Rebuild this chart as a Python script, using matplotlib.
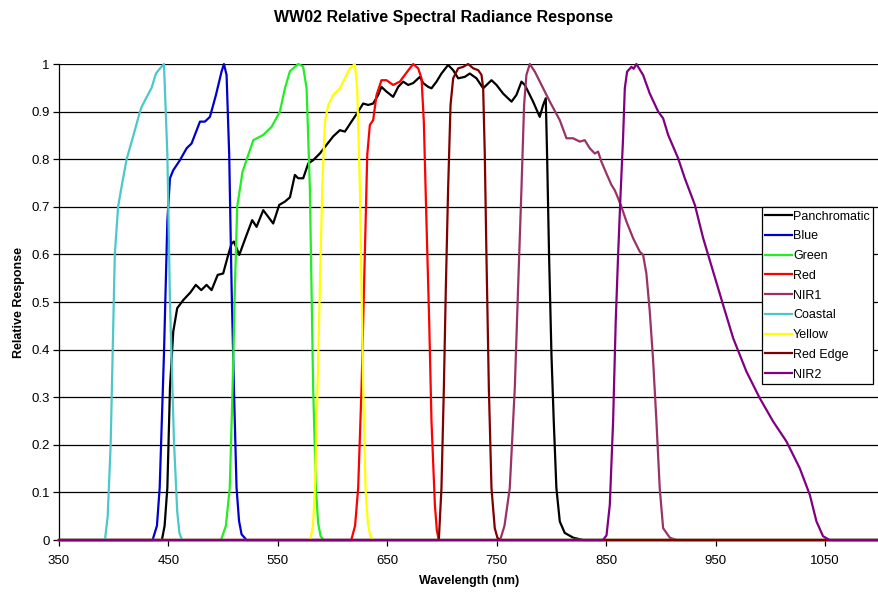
import matplotlib
matplotlib.use("Agg")
import matplotlib.pyplot as plt
from matplotlib.ticker import FuncFormatter, MultipleLocator

plt.rcParams['font.family'] = ['Liberation Sans', 'DejaVu Sans']

# spectral response curves (wavelength nm, relative response)
pan_wl = [350, 444, 446.5, 449, 451.4, 454.4, 458, 463.5, 470, 475, 480, 484.8, 489.4, 495, 500,
          504.6, 507.7, 509.8, 514.7, 521.4, 526.5, 530.5, 536.6, 545.7, 551.2, 556.4, 561,
          565.5, 568.5, 573.1, 577.7, 582.2, 588.3, 594.4, 600.5, 606.6, 611.2, 617.2, 623.3,
          627.9, 632.5, 637, 641.6, 644.6, 649.2, 655.3, 659.9, 664.4, 669, 673.6, 679.7,
          682.7, 687.3, 690.3, 694.9, 699.4, 705.5, 710.1, 714.7, 720.7, 725.3, 731.4, 737.5,
          745.1, 749.7, 755.7, 763.4, 767.9, 772.5, 775.5, 778.6, 783.1, 789.2, 792.3, 794.7,
          795.9, 797.7, 799.9, 802, 804.4, 807.5, 812, 819.7, 828.8, 1100]
pan_val = [0, 0, 0.03, 0.11, 0.32, 0.438, 0.487, 0.504, 0.52, 0.536, 0.525, 0.536, 0.525, 0.557, 0.56,
           0.599, 0.623, 0.627, 0.599, 0.641, 0.672, 0.658, 0.693, 0.665, 0.704, 0.711, 0.72,
           0.767, 0.76, 0.76, 0.791, 0.798, 0.812, 0.83, 0.848, 0.861, 0.858, 0.879, 0.9,
           0.917, 0.914, 0.917, 0.935, 0.952, 0.942, 0.931, 0.952, 0.963, 0.956, 0.96, 0.973,
           0.96, 0.952, 0.949, 0.963, 0.98, 0.998, 0.987, 0.97, 0.973, 0.98, 0.97, 0.949,
           0.966, 0.956, 0.938, 0.921, 0.935, 0.963, 0.956, 0.942, 0.921, 0.889, 0.914, 0.928,
           0.809, 0.599, 0.389, 0.249, 0.109, 0.039, 0.015, 0.005, 0, 0]

blue_wl = [350, 435.5, 439.5, 442, 445.9, 449, 451.4, 454.4, 460.5, 466.6, 471.1, 478.8, 483.3,
           487.9, 493.4, 498.5, 500.7, 503.1, 505.5, 507.7, 509.8, 512.2, 514.5, 516.8, 521.4, 1100]
blue_val = [0, 0, 0.03, 0.11, 0.39, 0.67, 0.76, 0.777, 0.798, 0.823, 0.833, 0.879, 0.879,
            0.889, 0.935, 0.984, 1.0, 0.977, 0.81, 0.53, 0.32, 0.11, 0.04, 0.012, 0, 0]

green_wl = [350, 498, 502.5, 506, 508.6, 510.7, 512.8, 517.7, 522.9, 527.5, 536.6, 544.2, 551.8,
            556.4, 561, 568.5, 573, 576.2, 579.2, 580.7, 582.2, 584.7, 586.8, 589, 592, 1100]
green_val = [0, 0, 0.03, 0.11, 0.32, 0.53, 0.70, 0.774, 0.809, 0.84, 0.851, 0.868, 0.9,
             0.949, 0.985, 1.0, 0.995, 0.949, 0.739, 0.529, 0.319, 0.109, 0.035, 0.008, 0, 0]

red_wl = [350, 617, 620.5, 623.3, 626.4, 629.4, 631.6, 634, 637, 640.1, 644.6, 649.2, 655.3,
          661.4, 665.9, 670.5, 673.6, 678.1, 681.2, 683.3, 685.7, 688.2, 690.3, 693.4, 695.2,
          697, 1100]
red_val = [0, 0, 0.03, 0.109, 0.319, 0.599, 0.809, 0.872, 0.882, 0.935, 0.966, 0.966, 0.956,
           0.963, 0.977, 0.991, 1.0, 0.991, 0.97, 0.879, 0.669, 0.459, 0.249, 0.074, 0.02, 0, 0]

nir1_wl = [350, 753, 757, 761.8, 766.4, 769.4, 772.5, 774.9, 777, 780.1, 784.7, 790.8, 798.4,
           807.5, 813.6, 819.7, 825.8, 830.3, 834.9, 839.5, 842.5, 845.5, 850.1, 854.7, 857.7,
           860.8, 863.8, 868.4, 874.5, 880.5, 883.6, 886.6, 889.7, 892.7, 895.8, 898.8, 901.9,
           908, 914, 1100]
nir1_val = [0, 0, 0.03, 0.109, 0.319, 0.529, 0.739, 0.914, 0.977, 1.0, 0.984, 0.956, 0.921,
            0.882, 0.844, 0.844, 0.837, 0.84, 0.823, 0.812, 0.816, 0.795, 0.77, 0.746, 0.735,
            0.718, 0.7, 0.669, 0.634, 0.606, 0.599, 0.56, 0.48, 0.38, 0.249, 0.109, 0.025,
            0.005, 0, 0]

coastal_wl = [350, 392, 394.5, 397.2, 401, 404, 407, 411.8, 418, 424, 425.5, 430, 434.6, 438.6,
              442, 445.9, 449, 451.4, 455, 458, 460, 462.5, 1100]
coastal_val = [0, 0, 0.05, 0.2, 0.6, 0.7, 0.74, 0.8, 0.85, 0.9, 0.91, 0.93, 0.95, 0.98,
               0.99, 1.0, 0.81, 0.5, 0.21, 0.06, 0.015, 0, 0]

yellow_wl = [350, 579.5, 582, 583.8, 586.2, 588.3, 590.5, 592.9, 596, 600.5, 606.6, 611.2, 615.7,
             620.3, 622.4, 624.9, 626.4, 627.9, 630, 632.2, 634.5, 637.5, 1100]
yellow_val = [0, 0, 0.03, 0.109, 0.319, 0.529, 0.739, 0.879, 0.914, 0.935, 0.949, 0.97, 0.991,
              1.0, 0.949, 0.739, 0.529, 0.319, 0.109, 0.035, 0.008, 0, 0]

rededge_wl = [350, 697, 699.4, 701.6, 703.4, 705.5, 707.7, 710.1, 714.7, 719.2, 723.8, 728.4,
              733, 736, 737.5, 739, 740.5, 742.7, 745.1, 748.1, 750.5, 753, 1100]
rededge_val = [0, 0, 0.109, 0.319, 0.529, 0.739, 0.914, 0.97, 0.991, 0.994, 1.0, 0.991,
               0.987, 0.977, 0.949, 0.809, 0.599, 0.319, 0.109, 0.025, 0.005, 0, 0]

nir2_wl = [350, 847, 850.2, 853.2, 856.2, 858.6, 860.8, 862.9, 865.3, 866.9, 869, 872.9, 875,
           877.5, 883.6, 889.7, 897.4, 901.9, 906.5, 915.6, 921.7, 930.9, 938.5, 947.6, 956.7,
           965.9, 978, 990.2, 1002.4, 1014.6, 1026.7, 1035.9, 1042, 1048, 1054, 1100]
nir2_val = [0, 0, 0.01, 0.074, 0.249, 0.459, 0.6, 0.72, 0.844, 0.949, 0.984, 0.994, 0.99,
            1.0, 0.977, 0.938, 0.9, 0.886, 0.851, 0.802, 0.76, 0.704, 0.634, 0.564, 0.494,
            0.424, 0.354, 0.298, 0.249, 0.207, 0.151, 0.095, 0.039, 0.008, 0, 0]

series = [
    ("Panchromatic", pan_wl, pan_val, "#000000"),
    ("Blue", blue_wl, blue_val, "#0000CC"),
    ("Green", green_wl, green_val, "#22EE22"),
    ("Red", red_wl, red_val, "#FF0000"),
    ("NIR1", nir1_wl, nir1_val, "#993366"),
    ("Coastal", coastal_wl, coastal_val, "#4CC8C8"),
    ("Yellow", yellow_wl, yellow_val, "#FFFF00"),
    ("Red Edge", rededge_wl, rededge_val, "#800000"),
    ("NIR2", nir2_wl, nir2_val, "#800080"),
]

fig = plt.figure(figsize=(8.79, 5.95), dpi=100)
ax = fig.add_axes([0.0671, 0.0924, 0.934, 0.8])

for name, wl, val, col in series:
    ax.plot(wl, val, color=col, lw=1.6, label=name, zorder=3, clip_on=False)

ax.set_xlim(350, 1100)
ax.set_ylim(0, 1)
ax.set_xticks(range(350, 1100, 100))
ax.yaxis.set_major_locator(MultipleLocator(0.1))
ax.yaxis.set_major_formatter(FuncFormatter(lambda v, p: "%g" % round(v, 1)))
ax.grid(axis='y', color='black', lw=0.9)
ax.set_axisbelow(True)
ax.tick_params(direction='out', length=4.5, width=0.9, labelsize=9.5, colors='black')
ax.tick_params(axis='y', pad=2)
ax.tick_params(axis='x', pad=6)

for s in ['top', 'right']:
    ax.spines[s].set_visible(False)
ax.spines['left'].set_linewidth(0.9)
ax.spines['bottom'].set_linewidth(0.9)

ax.set_xlabel("Wavelength (nm)", fontsize=9, fontweight='bold', labelpad=6)
ax.set_ylabel("Relative Response", fontsize=9, fontweight='bold', labelpad=5)

leg = ax.legend(loc='upper left', bbox_to_anchor=(0.856, 0.70), fontsize=9,
                frameon=True, fancybox=False, framealpha=1, edgecolor='black',
                handlelength=2.1, handletextpad=0.1, labelspacing=0.62,
                borderpad=0.3, borderaxespad=0)
leg.get_frame().set_linewidth(0.9)
leg.set_zorder(5)

fig.text(0.505, 0.97, "WW02 Relative Spectral Radiance Response", ha='center', va='center',
         fontsize=11.5, fontweight='bold')

fig.savefig("out.png", dpi=100)
